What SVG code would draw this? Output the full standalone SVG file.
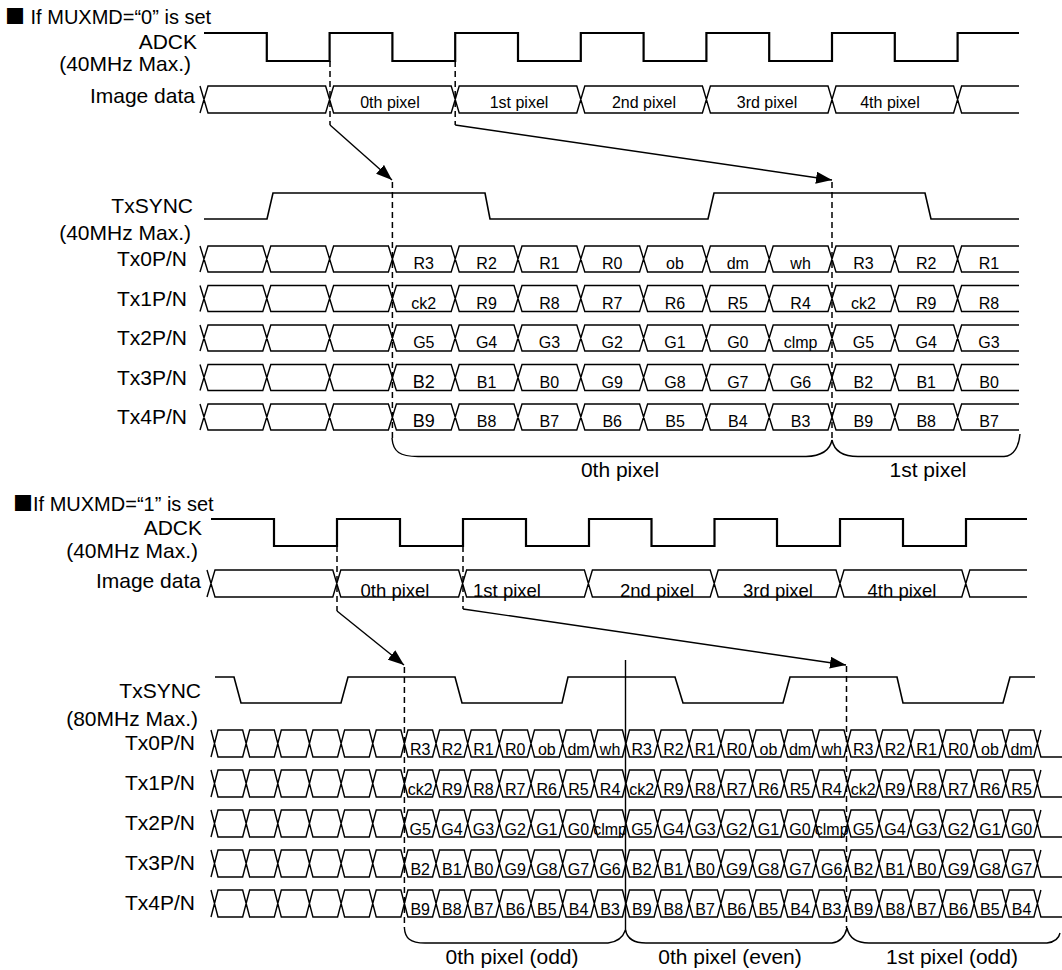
<svg xmlns="http://www.w3.org/2000/svg" width="1062" height="970" viewBox="0 0 1062 970">
<style>
text{font-family:"Liberation Sans",Arial,sans-serif;fill:#000}
.lb{font-size:21px;text-anchor:end}
.tt{font-size:20px}
.d{font-size:16px;text-anchor:middle}
.di{font-size:18.5px;text-anchor:middle}
.pl{font-size:21px;text-anchor:middle}
.row{fill:none;stroke:#000;stroke-width:1.4}
.clk{fill:none;stroke:#000;stroke-width:2.2}
.sync{fill:none;stroke:#000;stroke-width:1.6}
.dash{fill:none;stroke:#000;stroke-width:1.5;stroke-dasharray:6,4}
.arr{fill:none;stroke:#000;stroke-width:1.4}
.br{fill:none;stroke:#000;stroke-width:1.4}
.sq{font-family:"Noto Sans CJK JP",sans-serif}
</style>
<defs>
<marker id="ah" markerUnits="userSpaceOnUse" viewBox="0 0 16 12" refX="16" refY="6" markerWidth="16" markerHeight="12" orient="auto"><path d="M0,0L16,6L0,12z" fill="#000"/></marker>
<path id="rowT" class="row" d="M200,0l8,26h54.8l8,-26h54.8l8,26h54.8l8,-26h54.8l8,26h54.8l8,-26h54.8l8,26h54.8l8,-26h54.8l8,26h54.8l8,-26h54.8l8,26h54.8l8,-26h54.8l8,26h57.4M200,26l8,-26h54.8l8,26h54.8l8,-26h54.8l8,26h54.8l8,-26h54.8l8,26h54.8l8,-26h54.8l8,26h54.8l8,-26h54.8l8,26h54.8l8,-26h54.8l8,26h54.8l8,-26h57.4"/>
<path id="rowTI" class="row" d="M200,0l8,27h117.6l8,-27h117.6l8,27h117.6l8,-27h117.6l8,27h117.6l8,-27h117.6l8,27h57.4M200,27l8,-27h117.6l8,27h117.6l8,-27h117.6l8,27h117.6l8,-27h117.6l8,27h117.6l8,-27h57.4"/>
<path id="rowB" class="row" d="M211,0l7,27h24.65l7,-27h24.65l7,27h24.65l7,-27h24.65l7,27h24.65l7,-27h24.65l7,27h24.65l7,-27h24.65l7,27h24.65l7,-27h24.65l7,27h24.65l7,-27h24.65l7,27h24.65l7,-27h24.65l7,27h24.65l7,-27h24.65l7,27h24.65l7,-27h24.65l7,27h24.65l7,-27h24.65l7,27h24.65l7,-27h24.65l7,27h24.65l7,-27h24.65l7,27h24.65l7,-27h24.65l7,27h24.65l7,-27h24.65l7,27M211,27l7,-27h24.65l7,27h24.65l7,-27h24.65l7,27h24.65l7,-27h24.65l7,27h24.65l7,-27h24.65l7,27h24.65l7,-27h24.65l7,27h24.65l7,-27h24.65l7,27h24.65l7,-27h24.65l7,27h24.65l7,-27h24.65l7,27h24.65l7,-27h24.65l7,27h24.65l7,-27h24.65l7,27h24.65l7,-27h24.65l7,27h24.65l7,-27h24.65l7,27h24.65l7,-27h24.65l7,27h24.65l7,-27"/>
<path id="rowBI" class="row" d="M207,0l8,27h117.8l8,-27h117.8l8,27h117.8l8,-27h117.8l8,27h117.8l8,-27h117.8l8,27h57.2M207,27l8,-27h117.8l8,27h117.8l8,-27h117.8l8,27h117.8l8,-27h117.8l8,27h117.8l8,-27h57.2"/>
</defs>

<!-- ===== Section MUXMD=0 ===== -->
<g id="title0"><text class="tt" x="5" y="24"><tspan class="sq">■</tspan> If MUXMD=“0” is set</text></g>

<g id="adck0">
<text class="lb" x="197" y="49">ADCK</text>
<text class="lb" x="191" y="71">(40MHz Max.)</text>
<path class="clk" d="M204,33H266.8V61H329.6V33H392.4V61H455.2V33H518V61H580.8V33H643.6V61H706.4V33H769.2V61H832V33H894.8V61H957.6V33H1019"/>
</g>

<g id="img0">
<text class="lb" x="195" y="103">Image data</text>
<use href="#rowTI" y="86"/>
<text class="d" x="390" y="108">0th pixel</text>
<text class="d" x="519" y="108">1st pixel</text>
<text class="d" x="644" y="108">2nd pixel</text>
<text class="d" x="767" y="108">3rd pixel</text>
<text class="d" x="890" y="108">4th pixel</text>
</g>

<g id="sync0">
<text class="lb" x="193" y="213">TxSYNC</text>
<text class="lb" x="191" y="240">(40MHz Max.)</text>
<path class="sync" d="M204,219H267L273,193H485L490,219H708L714,193H925L931,219H1019"/>
</g>

<g id="tx0_0">
<text class="lb" x="187" y="266">Tx0P/N</text>
<use href="#rowT" y="246"/>
<text class="d" y="269"><tspan x="423.8">R3</tspan><tspan x="486.6">R2</tspan><tspan x="549.4">R1</tspan><tspan x="612.2">R0</tspan><tspan x="675">ob</tspan><tspan x="737.8">dm</tspan><tspan x="800.6">wh</tspan><tspan x="863.4">R3</tspan><tspan x="926.2">R2</tspan><tspan x="989">R1</tspan></text>
</g>
<g id="tx1_0">
<text class="lb" x="187" y="305.5">Tx1P/N</text>
<use href="#rowT" y="285.5"/>
<text class="d" y="308.5"><tspan x="423.8">ck2</tspan><tspan x="486.6">R9</tspan><tspan x="549.4">R8</tspan><tspan x="612.2">R7</tspan><tspan x="675">R6</tspan><tspan x="737.8">R5</tspan><tspan x="800.6">R4</tspan><tspan x="863.4">ck2</tspan><tspan x="926.2">R9</tspan><tspan x="989">R8</tspan></text>
</g>
<g id="tx2_0">
<text class="lb" x="187" y="345">Tx2P/N</text>
<use href="#rowT" y="325"/>
<text class="d" y="348"><tspan x="423.8">G5</tspan><tspan x="486.6">G4</tspan><tspan x="549.4">G3</tspan><tspan x="612.2">G2</tspan><tspan x="675">G1</tspan><tspan x="737.8">G0</tspan><tspan x="800.6">clmp</tspan><tspan x="863.4">G5</tspan><tspan x="926.2">G4</tspan><tspan x="989">G3</tspan></text>
</g>
<g id="tx3_0">
<text class="lb" x="187" y="384.5">Tx3P/N</text>
<use href="#rowT" y="364.5"/>
<text class="d" y="387.5"><tspan x="423.8" font-size="18">B2</tspan><tspan x="486.6">B1</tspan><tspan x="549.4">B0</tspan><tspan x="612.2">G9</tspan><tspan x="675">G8</tspan><tspan x="737.8">G7</tspan><tspan x="800.6">G6</tspan><tspan x="863.4">B2</tspan><tspan x="926.2">B1</tspan><tspan x="989">B0</tspan></text>
</g>
<g id="tx4_0">
<text class="lb" x="187" y="424">Tx4P/N</text>
<use href="#rowT" y="404"/>
<text class="d" y="427"><tspan x="423.8" font-size="18">B9</tspan><tspan x="486.6">B8</tspan><tspan x="549.4">B7</tspan><tspan x="612.2">B6</tspan><tspan x="675">B5</tspan><tspan x="737.8">B4</tspan><tspan x="800.6">B3</tspan><tspan x="863.4">B9</tspan><tspan x="926.2">B8</tspan><tspan x="989">B7</tspan></text>
</g>

<g id="brace0">
<path class="br" d="M392,438C393,452 400,456.5 418,456.5L806,456.5C822,456 830,450 832,440"/>
<path class="br" d="M832,440C834,450 842,456.5 858,456.5L1004,456.5C1014,456 1019,446 1020,434"/>
<text class="pl" x="620" y="477">0th pixel</text>
<text class="pl" x="928" y="477">1st pixel</text>
</g>

<g id="connectors0">
<path class="dash" d="M330,61V125M455.2,61V125M392.4,182V440M832,182V440"/>
<path class="arr" marker-end="url(#ah)" d="M330,125L392,180"/>
<path class="arr" marker-end="url(#ah)" d="M455.2,125L832,180"/>
</g>

<!-- ===== Section MUXMD=1 ===== -->
<g id="title1"><text class="tt" x="13" y="511"><tspan class="sq">■</tspan>If MUXMD=“1” is set</text></g>

<g id="adck1">
<text class="lb" x="202" y="535">ADCK</text>
<text class="lb" x="198" y="558">(40MHz Max.)</text>
<path class="clk" d="M211,519H274V546H337V519H400V546H463V519H526V546H589V519H651.5V546H714.5V519H777V546H840V519H903V546H966V519H1027"/>
</g>

<g id="img1">
<text class="lb" x="201" y="588">Image data</text>
<use href="#rowBI" y="570"/>
<text class="di" x="395" y="597">0th pixel</text>
<text class="di" x="507" y="597">1st pixel</text>
<text class="di" x="657" y="597">2nd pixel</text>
<text class="di" x="778" y="597">3rd pixel</text>
<text class="di" x="902" y="597">4th pixel</text>
</g>

<g id="sync1">
<text class="lb" x="201" y="698">TxSYNC</text>
<text class="lb" x="198" y="726">(80MHz Max.)</text>
<path class="sync" d="M215,677H234L241,703H341L348,677H455L462,703H562L568,677H675L683,703H783L790,677H897L903,703H1003L1010,677H1035"/>
</g>

<g id="tx0_1">
<text class="lb" x="195" y="750">Tx0P/N</text>
<use href="#rowB" y="730"/>
<text class="d" y="755"><tspan x="420.2">R3</tspan><tspan x="451.9">R2</tspan><tspan x="483.5">R1</tspan><tspan x="515.2">R0</tspan><tspan x="546.8">ob</tspan><tspan x="578.5">dm</tspan><tspan x="610.1">wh</tspan><tspan x="641.8">R3</tspan><tspan x="673.4">R2</tspan><tspan x="705.1">R1</tspan><tspan x="736.7">R0</tspan><tspan x="768.4">ob</tspan><tspan x="800">dm</tspan><tspan x="831.7">wh</tspan><tspan x="863.3">R3</tspan><tspan x="895">R2</tspan><tspan x="926.6">R1</tspan><tspan x="958.3">R0</tspan><tspan x="989.9">ob</tspan><tspan x="1021.6">dm</tspan></text>
</g>
<g id="tx1_1">
<text class="lb" x="195" y="790">Tx1P/N</text>
<use href="#rowB" y="770"/>
<text class="d" y="795"><tspan x="420.2">ck2</tspan><tspan x="451.9">R9</tspan><tspan x="483.5">R8</tspan><tspan x="515.2">R7</tspan><tspan x="546.8">R6</tspan><tspan x="578.5">R5</tspan><tspan x="610.1">R4</tspan><tspan x="641.8">ck2</tspan><tspan x="673.4">R9</tspan><tspan x="705.1">R8</tspan><tspan x="736.7">R7</tspan><tspan x="768.4">R6</tspan><tspan x="800">R5</tspan><tspan x="831.7">R4</tspan><tspan x="863.3">ck2</tspan><tspan x="895">R9</tspan><tspan x="926.6">R8</tspan><tspan x="958.3">R7</tspan><tspan x="989.9">R6</tspan><tspan x="1021.6">R5</tspan></text>
</g>
<g id="tx2_1">
<text class="lb" x="195" y="830">Tx2P/N</text>
<use href="#rowB" y="810"/>
<text class="d" y="835"><tspan x="420.2">G5</tspan><tspan x="451.9">G4</tspan><tspan x="483.5">G3</tspan><tspan x="515.2">G2</tspan><tspan x="546.8">G1</tspan><tspan x="578.5">G0</tspan><tspan x="610.1">clmp</tspan><tspan x="641.8">G5</tspan><tspan x="673.4">G4</tspan><tspan x="705.1">G3</tspan><tspan x="736.7">G2</tspan><tspan x="768.4">G1</tspan><tspan x="800">G0</tspan><tspan x="831.7">clmp</tspan><tspan x="863.3">G5</tspan><tspan x="895">G4</tspan><tspan x="926.6">G3</tspan><tspan x="958.3">G2</tspan><tspan x="989.9">G1</tspan><tspan x="1021.6">G0</tspan></text>
</g>
<g id="tx3_1">
<text class="lb" x="195" y="870">Tx3P/N</text>
<use href="#rowB" y="850"/>
<text class="d" y="875"><tspan x="420.2">B2</tspan><tspan x="451.9">B1</tspan><tspan x="483.5">B0</tspan><tspan x="515.2">G9</tspan><tspan x="546.8">G8</tspan><tspan x="578.5">G7</tspan><tspan x="610.1">G6</tspan><tspan x="641.8">B2</tspan><tspan x="673.4">B1</tspan><tspan x="705.1">B0</tspan><tspan x="736.7">G9</tspan><tspan x="768.4">G8</tspan><tspan x="800">G7</tspan><tspan x="831.7">G6</tspan><tspan x="863.3">B2</tspan><tspan x="895">B1</tspan><tspan x="926.6">B0</tspan><tspan x="958.3">G9</tspan><tspan x="989.9">G8</tspan><tspan x="1021.6">G7</tspan></text>
</g>
<g id="tx4_1">
<text class="lb" x="195" y="910">Tx4P/N</text>
<use href="#rowB" y="890"/>
<text class="d" y="915"><tspan x="420.2">B9</tspan><tspan x="451.9">B8</tspan><tspan x="483.5">B7</tspan><tspan x="515.2">B6</tspan><tspan x="546.8">B5</tspan><tspan x="578.5">B4</tspan><tspan x="610.1">B3</tspan><tspan x="641.8">B9</tspan><tspan x="673.4">B8</tspan><tspan x="705.1">B7</tspan><tspan x="736.7">B6</tspan><tspan x="768.4">B5</tspan><tspan x="800">B4</tspan><tspan x="831.7">B3</tspan><tspan x="863.3">B9</tspan><tspan x="895">B8</tspan><tspan x="926.6">B7</tspan><tspan x="958.3">B6</tspan><tspan x="989.9">B5</tspan><tspan x="1021.6">B4</tspan></text>
</g>

<g id="brace1">
<path class="br" d="M404.4,928C405,938 410,943 425,943L608,943C617,942 623,937 625.5,930"/>
<path class="br" d="M625.5,930C627,938 633,943 646,943L832,943C840,942 845,936 847,928"/>
<path class="br" d="M847,928C849,937 856,943 869,943L1047,943C1055,942 1059,938 1060,933"/>
<text class="pl" x="512" y="964">0th pixel (odd)</text>
<text class="pl" x="730" y="964">0th pixel (even)</text>
<text class="pl" x="952" y="964">1st pixel (odd)</text>
</g>

<g id="connectors1">
<path class="dash" d="M337,546V611M463,546V609M404.4,667V928M846.5,666V928"/>
<path class="arr" d="M625.5,660V932" stroke-width="1.6"/>
<path class="arr" marker-end="url(#ah)" d="M337,611L404,665"/>
<path class="arr" marker-end="url(#ah)" d="M463,609L846,665"/>
</g>
</svg>
